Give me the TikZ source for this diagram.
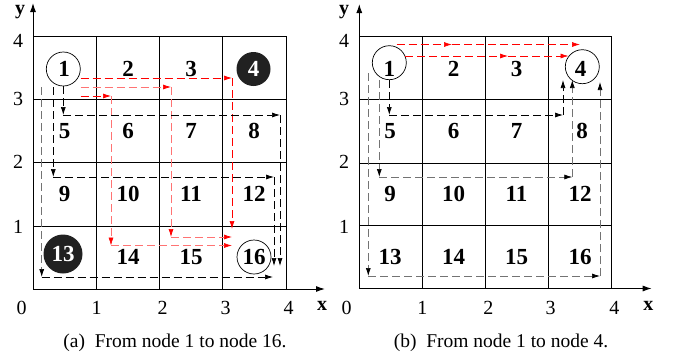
\documentclass[tikz,border=0pt]{standalone}
\usepackage{fontspec}
\setmainfont{Liberation Serif}
\usetikzlibrary{arrows.meta}
\begin{document}
\begin{tikzpicture}[x=1pt,y=-1pt,
  gridline/.style={line width=0.8pt},
  axis/.style={line width=1pt,-{Latex[length=9pt,width=6pt]}},
  num/.style={font=\fontsize{23}{26}\bfseries\selectfont,inner sep=0pt},
  ring/.style={circle,draw,line width=0.7pt,minimum size=34pt,inner sep=0pt},
  blk/.style={circle,fill=black!87,minimum size=#1,inner sep=0pt,text=white,font=\fontsize{23}{26}\bfseries\selectfont},
  ticklab/.style={font=\fontsize{20}{23}\selectfont,inner sep=0pt},
  axlab/.style={font=\fontsize{20}{23}\bfseries\selectfont,inner sep=0pt},
  captext/.style={font=\fontsize{19.5}{23}\selectfont,inner sep=0pt},
  seg/.style={dash pattern=on 8pt off 4pt,line width=0.7pt,-{Latex[length=8pt,width=5pt]}},
  rseg/.style={seg,red},
  pseg/.style={seg,red!55,-{Latex[length=8pt,width=5pt,color=red]}},
  kseg/.style={seg,black},
  gseg/.style={seg,black!55,-{Latex[length=8pt,width=5pt,color=black]}},
]
\useasboundingbox (0,0) rectangle (677,362);

% ================= panel (a) =================
\draw[gridline] (33,36) rectangle (286,289);
\foreach \xx in {96.5,159.5,222.5} \draw[gridline] (\xx,36) -- (\xx,289);
\foreach \yy in {99,162.5,226} \draw[gridline] (33,\yy) -- (286,\yy);
\coordinate (ao) at (33,289);
\coordinate (ay) at (33,3);
\coordinate (ax) at (325,289);
\draw[axis] (ao) -- (ay);
\draw[axis] (ao) -- (ax);
\node[axlab] (aylab) at (20,12) {y};
\node[axlab] (axlab) at (322,306) {x};
\node[ticklab] (ay4) at (18,41) {4};
\node[ticklab] (ay3) at (18,98.5) {3};
\node[ticklab] (ay2) at (18,162) {2};
\node[ticklab] (ay1) at (18,227) {1};
\node[ticklab] (ax0) at (21.5,308) {0};
\node[ticklab] (ax1) at (96.7,308) {1};
\node[ticklab] (ax2) at (162.7,308) {2};
\node[ticklab] (ax3) at (225.7,308) {3};
\node[ticklab] (ax4) at (288.7,308) {4};

\node[ring] (ac1) at (63.3,69) {};
\node[blk=34pt] (an4) at (253.5,69) {4};
\node[blk=39pt] (an13) at (63,254) {13};
\node[ring] (ac16) at (254,257) {};
\node[num] (an1) at (64,69) {1};
\node[num] (an2) at (128,69) {2};
\node[num] (an3) at (191,69) {3};
\node[num] (an5) at (64.5,131) {5};
\node[num] (an6) at (128,131) {6};
\node[num] (an7) at (191,131) {7};
\node[num] (an8) at (254,131) {8};
\node[num] (an9) at (64.5,193.5) {9};
\node[num] (an10) at (128,193.5) {10};
\node[num] (an11) at (191,193.5) {11};
\node[num] (an12) at (254,193.5) {12};
\node[num] (an14) at (128,257) {14};
\node[num] (an15) at (191,257) {15};
\node[num] (an16) at (254,257) {16};

% red paths (a)
\draw[rseg] (80.7,78) -- (232,78);
\draw[rseg] (232,78) -- (232,229);
\draw[pseg] (80.7,87) -- (171,87);
\draw[pseg] (171,87) -- (171,237);
\draw[pseg] (171,237) -- (232,237);
\draw[rseg] (80.7,96) -- (111,96);
\draw[pseg] (111,96) -- (111,245.5);
\draw[pseg] (111,245.5) -- (232,245.5);
% black paths (a)
\draw[kseg] (ac1.south) -- (63.3,115);
\draw[kseg] (63.3,115) -- (280,115);
\draw[kseg] (280,115) -- (280,266);
\draw[kseg] (53.3,87) -- (53.3,177);
\draw[kseg] (53.3,177) -- (274,177);
\draw[kseg] (274,177) -- (274,266);
\draw[gseg] (41.7,87) -- (41.7,277);
\draw[kseg] (41.7,277) -- (273,277);

\node[captext] (capa) at (175,343) {(a)\enspace From node 1 to node 16.};

% ================= panel (b) =================
\draw[gridline] (359.3,36) rectangle (611.7,288.5);
\foreach \xx in {422.3,485.3,548.3} \draw[gridline] (\xx,36) -- (\xx,288.5);
\foreach \yy in {99,163,225.7} \draw[gridline] (359.3,\yy) -- (611.7,\yy);
\coordinate (bo) at (359.3,288.5);
\coordinate (by) at (359.3,4);
\coordinate (bx) at (651.7,288.5);
\draw[axis] (bo) -- (by);
\draw[axis] (bo) -- (bx);
\node[axlab] (bylab) at (344,12) {y};
\node[axlab] (bxlab) at (648.3,306) {x};
\node[ticklab] (by4) at (344,41) {4};
\node[ticklab] (by3) at (344,98.5) {3};
\node[ticklab] (by2) at (344,162) {2};
\node[ticklab] (by1) at (344,227) {1};
\node[ticklab] (bx0) at (346.7,308) {0};
\node[ticklab] (bx1) at (422.3,308) {1};
\node[ticklab] (bx2) at (488.3,308) {2};
\node[ticklab] (bx3) at (550.7,308) {3};
\node[ticklab] (bx4) at (614.3,308) {4};

\node[ring] (bc1) at (389.3,62.7) {};
\node[ring] (bc4) at (582.3,66.7) {};
\node[num] (bn1) at (389.3,68.5) {1};
\node[num] (bn2) at (453.5,68.5) {2};
\node[num] (bn3) at (516.5,68.5) {3};
\node[num] (bn4) at (580.5,68.5) {4};
\node[num] (bn5) at (390,131) {5};
\node[num] (bn6) at (453.5,131) {6};
\node[num] (bn7) at (516.5,131) {7};
\node[num] (bn8) at (582,131) {8};
\node[num] (bn9) at (390,193.5) {9};
\node[num] (bn10) at (453.5,193.5) {10};
\node[num] (bn11) at (516.5,193.5) {11};
\node[num] (bn12) at (580,193.5) {12};
\node[num] (bn13) at (390,257) {13};
\node[num] (bn14) at (453.5,257) {14};
\node[num] (bn15) at (516.5,257) {15};
\node[num] (bn16) at (580,257) {16};

% red paths (b)
\draw[rseg] (396.7,44.5) -- (452,44.5);
\draw[rseg] (452,44.5) -- (580,44.5);
\draw[rseg] (405,56) -- (508,56);
\draw[rseg] (508,56) -- (568.5,56);
% black paths (b)
\draw[kseg] (bc1.south) -- (389.3,115);
\draw[kseg] (389.3,115) -- (563,115);
\draw[kseg] (563,115) -- (563,80);
\draw[gseg] (379.3,80) -- (379.3,177);
\draw[gseg] (379.3,177) -- (572.3,177);
\draw[gseg] (572.3,177) -- (572.3,80);
\draw[gseg] (368.3,73) -- (368.3,276);
\draw[gseg] (368.3,276) -- (600,276);
\draw[gseg] (600,276) -- (600,82);

\node[captext] (capb) at (501,343) {(b)\enspace From node 1 to node 4.};
\end{tikzpicture}
\end{document}
